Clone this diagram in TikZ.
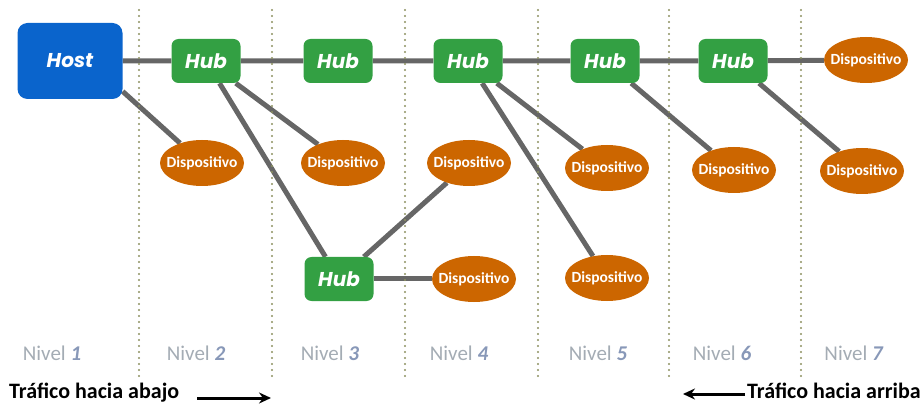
\documentclass[tikz,border=0pt]{standalone}
\usepackage{fontspec}
\setmainfont{Carlito}
\newfontfamily\hubfont{Poppins}
\usetikzlibrary{shapes.geometric,arrows.meta,backgrounds}
\definecolor{hostblue}{HTML}{0A64CC}
\definecolor{hubgreen}{HTML}{33A043}
\definecolor{devorange}{HTML}{CC6600}
\definecolor{linegray}{HTML}{666666}
\definecolor{dotolive}{HTML}{8C9160}
\definecolor{nivgray}{HTML}{A4ACB4}
\definecolor{nivnum}{HTML}{8898B8}
\tikzset{
  hostbox/.style={fill=hostblue, rounded corners=10pt, minimum width=105pt, minimum height=76pt, text=white, font=\hubfont\fontsize{20}{20}\selectfont\bfseries\itshape, inner sep=0pt},
  hubbox/.style={fill=hubgreen, rounded corners=7pt, minimum width=69pt, minimum height=44pt, text=white, font=\hubfont\fontsize{20}{20}\selectfont\bfseries\itshape, inner sep=0pt},
  devnode/.style={ellipse, fill=devorange, minimum width=84pt, minimum height=46pt, inner xsep=-9pt, inner ysep=0pt, text=white, font=\fontsize{15.5}{15.5}\selectfont\bfseries},
  link/.style={draw=linegray, line width=5pt},
  divider/.style={draw=dotolive, line width=2.2pt, dash pattern=on 0pt off 6pt, line cap=round},
  nivlabel/.style={font=\fontsize{21}{21}\selectfont, text=nivgray},
  traffic/.style={font=\fontsize{22}{22}\selectfont\bfseries, text=black},
  flowarrow/.style={draw=black, line width=3pt, -{Stealth[length=12pt,width=11pt]}}
}
\newcommand{\niv}[1]{Nivel \textcolor{nivnum}{\textbf{\textit{#1}}}}
\begin{document}
\begin{tikzpicture}[x=1pt,y=-1pt]
\useasboundingbox (0,0) rectangle (924,406);
% dividers
\foreach \xx/\nm in {139/a,272/b,405/c,538/d,669/e,801/f}{
  \coordinate (t\nm) at (\xx,10);
  \coordinate (b\nm) at (\xx,378);
  \draw[divider] (t\nm) -- (b\nm);
}
% nodes
\node[hostbox] (host) at (70,61) {Host};
\node[hubbox] (hub2) at (206,61) {Hub};
\node[hubbox] (hub3) at (338,61) {Hub};
\node[hubbox] (hub4) at (468,61) {Hub};
\node[hubbox] (hub5) at (605,61) {Hub};
\node[hubbox] (hub6) at (733,61) {Hub};
\node[hubbox] (hubl) at (339,279) {Hub};
\node[devnode] (d1) at (202,163) {Dispositivo};
\node[devnode] (d2) at (343,163) {Dispositivo};
\node[devnode] (d3) at (469,163) {Dispositivo};
\node[devnode] (d4) at (474,279) {Dispositivo};
\node[devnode] (d5) at (607,168) {Dispositivo};
\node[devnode] (d6) at (607,278) {Dispositivo};
\node[devnode] (d7) at (734,170) {Dispositivo};
\node[devnode] (d8) at (866,60) {Dispositivo};
\node[devnode] (d9) at (862,171) {Dispositivo};
% links
\begin{scope}[on background layer]
\draw[link] (host) -- (hub2) -- (hub3) -- (hub4) -- (hub5) -- (hub6) -- (d8);
\draw[link] (host.330) -- (d1);
\draw[link] (hub2) -- (d2);
\draw[link] (hub2) -- (hubl);
\draw[link] (hubl) -- (d3);
\draw[link] (hubl) -- (d4);
\draw[link] (hub4) -- (d5);
\draw[link] (hub4) -- (d6);
\draw[link] (hub5) -- (d7);
\draw[link] (hub6) -- (d9);
\end{scope}
% level labels
\node[nivlabel] (n1) at (52,353) {\niv{1}};
\node[nivlabel] (n2) at (196,353) {\niv{2}};
\node[nivlabel] (n3) at (330,353) {\niv{3}};
\node[nivlabel] (n4) at (459,353) {\niv{4}};
\node[nivlabel] (n5) at (598,353) {\niv{5}};
\node[nivlabel] (n6) at (722,353) {\niv{6}};
\node[nivlabel] (n7) at (854,353) {\niv{7}};
% traffic
\node[traffic, anchor=west, inner sep=0pt] (down) at (9,393) {Tráfico hacia abajo};
\coordinate (downstart) at (197,398);
\coordinate (downend) at (271,398);
\draw[flowarrow] (downstart) -- (downend);
\node[traffic, anchor=east, inner sep=0pt] (up) at (921,391) {Tráfico hacia arriba};
\coordinate (upstart) at (745,394);
\coordinate (upend) at (683,394);
\draw[flowarrow] (upstart) -- (upend);
\end{tikzpicture}
\end{document}
